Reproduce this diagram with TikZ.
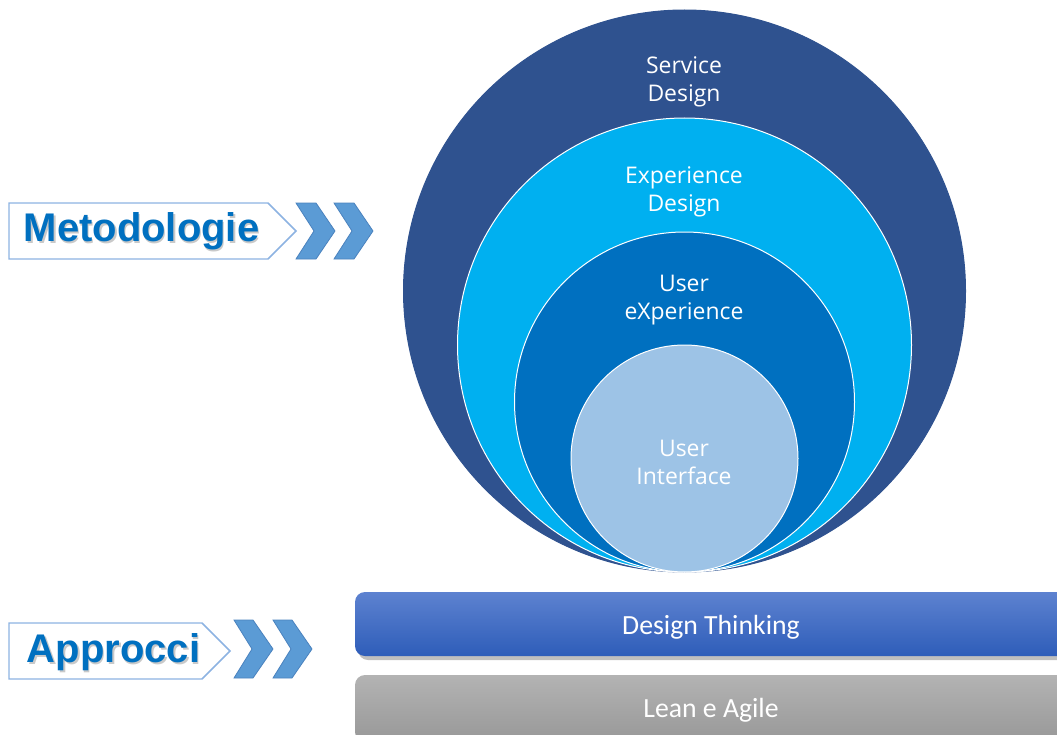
\documentclass[tikz,border=0pt]{standalone}
\usepackage{fontspec}
\setmainfont{Open Sans}
\newfontfamily\barfont{Carlito}
\newfontfamily\labfont{Liberation Sans}
\usetikzlibrary{calc}
\definecolor{sdcol}{HTML}{2F528F}
\definecolor{xdcol}{HTML}{00B0F0}
\definecolor{uxcol}{HTML}{0070C0}
\definecolor{uicol}{HTML}{9DC3E6}
\definecolor{labcol}{HTML}{0070C0}
\definecolor{boxedge}{HTML}{8DB3E2}
\definecolor{chevfill}{HTML}{5B9BD5}
\definecolor{chevedge}{HTML}{4A82BE}
\definecolor{dttop}{HTML}{5D82D0}
\definecolor{dtbot}{HTML}{2E5DB9}
\definecolor{latop}{HTML}{B3B3B3}
\definecolor{labot}{HTML}{989898}
\tikzset{
  ring/.style={circle, inner sep=0pt, draw=white, line width=0.75pt},
  ctext/.style={text=white, align=center, font=\fontsize{17.2pt}{21pt}\selectfont},
  labbox/.style={draw=boxedge, line width=1.1pt, fill=white},
  chevshape/.style={fill=chevfill, draw=chevedge, line width=0.6pt},
  bartext/.style={text=white, font=\barfont\fontsize{20.8pt}{24pt}\selectfont},
  labtext/.style={text=labcol, font=\labfont\bfseries\fontsize{30pt}{34pt}\selectfont},
  labshadow/.style={text=black!35, opacity=0.6, font=\labfont\bfseries\fontsize{30pt}{34pt}\selectfont},
  barshadow/.style={fill=black, opacity=0.25, rounded corners=7.5pt}
}
\begin{document}
\begin{tikzpicture}[x=0.75pt,y=-0.75pt]
\useasboundingbox (0,0) rectangle (1057,735);

% circles
\node[ring, draw=sdcol, fill=sdcol, minimum size=421.5pt] (sd) at (684.5,291) {};
\node[ring, fill=xdcol, minimum size=340.5pt] (xd) at (684.5,345) {};
\node[ring, fill=uxcol, minimum size=255pt] (ux) at (684.5,402) {};
\node[ring, fill=uicol, minimum size=170.25pt] (ui) at (684.5,458.5) {};

\node[ctext] (tsd) at (684,82) {Service\\Design};
\node[ctext] (txd) at (684,192) {Experience\\Design};
\node[ctext] (tux) at (684,300) {User\\eXperience};
\node[ctext] (tui) at (684,462) {User\\Interface};

% bars
\fill[barshadow] (358,595) rectangle (1070,660);
\shade[top color=dttop, bottom color=dtbot, rounded corners=7.5pt] (355,592) rectangle (1067,656);
\node[bartext] (dt) at (711,627) {Design Thinking};
\fill[barshadow] (358,678) rectangle (1070,745);
\shade[top color=latop, bottom color=labot, rounded corners=7.5pt] (355,675) rectangle (1067,742);
\node[bartext] (la) at (711,710) {Lean e Agile};

% label Metodologie
\draw[labbox] (9,203) -- (268,203) -- (296,231) -- (268,259) -- (9,259) -- cycle;
\node[labshadow] at (143,233.5) {Metodologie};
\node[labtext] (met) at (141.5,231.5) {Metodologie};
\draw[chevshape] (296,203) -- (316,203) -- (335,231) -- (316,259) -- (296,259) -- (314,231) -- cycle;
\draw[chevshape] (334,203) -- (354,203) -- (373,231) -- (354,259) -- (334,259) -- (352,231) -- cycle;

% label Approcci
\draw[labbox] (9,623) -- (202,623) -- (230,651) -- (202,679) -- (9,679) -- cycle;
\node[labshadow] at (115,654) {Approcci};
\node[labtext] (app) at (113.5,652) {Approcci};
\draw[chevshape] (234,620) -- (253,620) -- (273,649) -- (253,678) -- (234,678) -- (252,649) -- cycle;
\draw[chevshape] (273,620) -- (292,620) -- (312,649) -- (292,678) -- (273,678) -- (291,649) -- cycle;
\end{tikzpicture}
\end{document}
